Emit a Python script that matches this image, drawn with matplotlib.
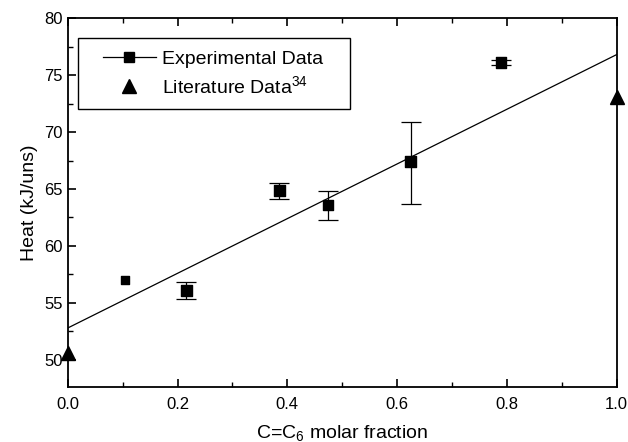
import matplotlib
matplotlib.use("Agg")
import matplotlib.pyplot as plt
from matplotlib.lines import Line2D
from matplotlib.patches import Rectangle
from matplotlib.ticker import MultipleLocator

plt.rcParams['font.family'] = ['Liberation Sans', 'DejaVu Sans']
plt.rcParams['mathtext.fontset'] = 'custom'
plt.rcParams['mathtext.rm'] = 'Liberation Sans'
plt.rcParams['mathtext.it'] = 'Liberation Sans'

exp_x = [0.104, 0.216, 0.385, 0.474, 0.625, 0.789]
exp_y = [57.0, 56.1, 64.9, 63.6, 67.4, 76.1]
exp_err_low = [0.0, 0.8, 0.75, 1.3, 3.7, 0.2]
exp_err_high = [0.0, 0.75, 0.65, 1.2, 3.5, 0.2]
exp_marker_area = [30, 60, 60, 60, 60, 60]

lit_x = [0.0, 1.0]
lit_y = [50.6, 73.1]

fit_x = [0.0, 1.0]
fit_y = [52.8, 76.8]

fig = plt.figure(figsize=(6.28, 4.42), dpi=100)
ax = fig.add_axes([0.108, 0.124, 0.874, 0.835])

ax.plot(fit_x, fit_y, color='black', lw=0.9, zorder=2)
idx = [i for i in range(len(exp_x)) if exp_err_low[i] > 0 or exp_err_high[i] > 0]
ax.errorbar([exp_x[i] for i in idx], [exp_y[i] for i in idx],
            yerr=[[exp_err_low[i] for i in idx], [exp_err_high[i] for i in idx]],
            fmt='none', ecolor='black', elinewidth=0.9, capsize=7, capthick=0.9, zorder=3)
ax.scatter(exp_x, exp_y, s=exp_marker_area, marker='s', color='black', zorder=4)
ax.plot(lit_x, lit_y, '^', color='black', ms=10, linestyle='none', zorder=4, clip_on=False)

ax.set_xlim(0, 1.0)
ax.set_ylim(47.6, 80)
ax.xaxis.set_minor_locator(MultipleLocator(0.1))
ax.yaxis.set_major_locator(MultipleLocator(5))
ax.yaxis.set_minor_locator(MultipleLocator(2.5))
ax.set_xticks([0, 0.2, 0.4, 0.6, 0.8, 1.0])
ax.set_xticklabels(['0.0', '0.2', '0.4', '0.6', '0.8', '1.0'])
ax.tick_params(which='both', direction='in', top=True, right=False, labelsize=12)
ax.tick_params(axis='x', which='major', pad=7)
ax.tick_params(which='major', length=6, width=1.2)
ax.tick_params(which='minor', length=3.5, width=1)
for s in ax.spines.values():
    s.set_linewidth(1.3)

ax.set_xlabel('C=C$_6$ molar fraction', fontsize=14, labelpad=8)
ax.set_ylabel('Heat (kJ/uns)', fontsize=14, labelpad=5)

h1 = Line2D([], [], color='black', lw=0.9, marker='s', ms=7)
h2 = Line2D([], [], color='black', lw=0, marker='^', ms=10)
leg = ax.legend([h1, h2], ['Experimental Data', 'Literature Data$^{34}$'],
                loc='upper left', bbox_to_anchor=(0.036, 0.955), fontsize=14,
                frameon=False, handlelength=2.7, handletextpad=0.35,
                borderpad=0.3, labelspacing=0.38)
ax.add_patch(Rectangle((0.018, 0.754), 0.497, 0.192, transform=ax.transAxes,
                       fill=True, facecolor='white', edgecolor='black', lw=1.0, zorder=5))
leg.set_zorder(6)

fig.savefig('out.png', dpi=100)
